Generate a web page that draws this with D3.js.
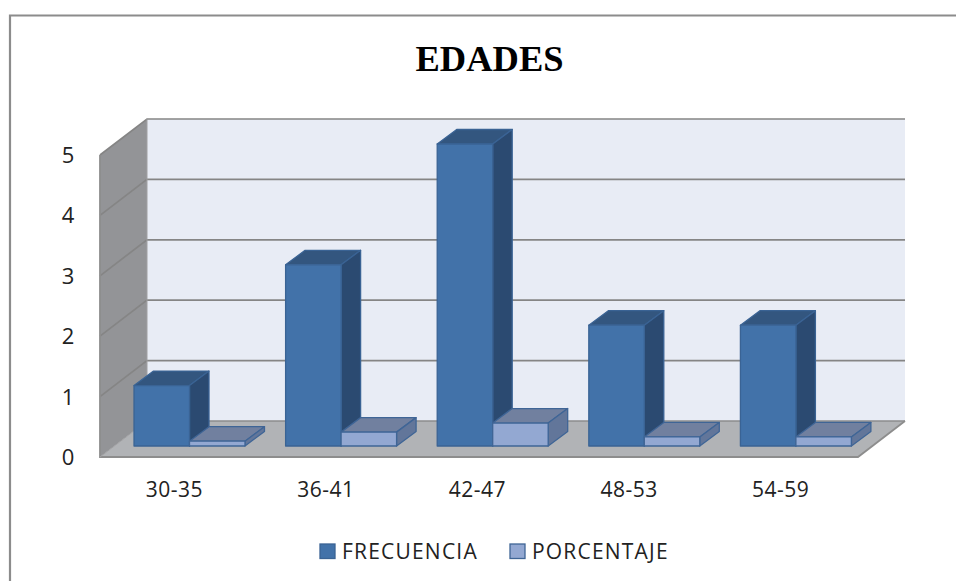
<!DOCTYPE html>
<html><head><meta charset="utf-8">
<script src="https://cdn.jsdelivr.net/npm/d3@7"></script>
<style>html,body{margin:0;padding:0;background:#fff;overflow:hidden}svg{display:block}</style>
</head><body><div id="c"></div>
<script>
const title = "EDADES";
const categories = ["30-35","36-41","42-47","48-53","54-59"];
const frecuencia = [1,3,5,2,2];
const porcentaje = [0.08,0.23,0.38,0.15,0.15];
const seriesNames = ["FRECUENCIA","PORCENTAJE"];
const yTicks = [0,1,2,3,4,5];

const W=956,H=581;
const svg=d3.select("#c").append("svg").attr("width",W).attr("height",H);
const sans="'Open Sans','Noto Sans',sans-serif";
const line=d3.line();

// frame
svg.append("path").attr("d",line([[10,581],[10,15.5],[956,15.5]])).attr("fill","none").attr("stroke","#8c8c8c").attr("stroke-width",2.2);

svg.append("text").attr("x",489.5).attr("y",71).attr("text-anchor","middle")
 .attr("font-family","'Liberation Serif',serif").attr("font-weight","bold").attr("font-size",36.5).attr("fill","#000").text(title);

// 3D frame geometry
const dx=47,dy=36;
const front0=100, frontW=758;
const yFront=d3.scaleLinear().domain([0,5]).range([457,155]);
const yBack=v=>yFront(v)-dy;
const x0=front0+dx, x1=front0+dx+frontW;

svg.append("rect").attr("x",x0).attr("y",yBack(5)).attr("width",x1-x0).attr("height",yBack(0)-yBack(5)).attr("fill","#e8ecf5");
svg.append("path").attr("d",line([[front0,yFront(0)],[front0,yFront(5)],[x0,yBack(5)],[x0,yBack(0)]])+"Z").attr("fill","#939497");
svg.append("path").attr("d",line([[front0,yFront(0)],[x0,yBack(0)],[x1,yBack(0)],[front0+frontW,yFront(0)]])+"Z").attr("fill","#b1b3b6");

// gridlines
yTicks.forEach(t=>{
 if(t>0) svg.append("path").attr("d",line([[front0,yFront(t)],[x0,yBack(t)],[x1,yBack(t)]])).attr("fill","none").attr("stroke","#858585").attr("stroke-width",1.7);
});
svg.append("path").attr("d",line([[x0,yBack(0)],[x1,yBack(0)]])).attr("fill","none").attr("stroke","#8d8d8d").attr("stroke-width",1.6);
svg.append("path").attr("d",line([[front0,yFront(5)],[front0,yFront(0)],[front0+frontW,yFront(0)],[x1,yBack(0)]])).attr("fill","none").attr("stroke","#8d8d8d").attr("stroke-width",1.8);
svg.append("path").attr("d",line([[x0,yBack(5)],[x0,yBack(0)],[front0,yFront(0)]])).attr("fill","none").attr("stroke","#a0a0a2").attr("stroke-width",1);

// y tick labels
svg.selectAll(".yl").data(yTicks).join("text").attr("class","yl").attr("x",68).attr("y",d=>yFront(d)+8)
 .attr("text-anchor","middle").attr("font-family",sans).attr("font-size",22).attr("fill","#222").text(d=>d);

// category labels
const xLabel=d3.scaleBand().domain(categories).range([front0-1.5,front0-1.5+frontW]);
svg.selectAll(".xl").data(categories).join("text").attr("class","xl")
 .attr("x",d=>xLabel(d)+xLabel.bandwidth()/2).attr("y",497).attr("text-anchor","middle")
 .attr("font-family",sans).attr("font-size",21).attr("letter-spacing",0.5).attr("fill","#222").text(d=>d);

// bars
const xGroup=d3.scaleBand().domain(categories).range([113.7,871.7]).paddingInner(0.268).paddingOuter(0.134);
const xSeries=d3.scaleBand().domain(seriesNames).range([0,xGroup.bandwidth()]);
const yBar=d3.scaleLinear().domain([0,5]).range([446,144]);
const bdx=19.5,bdy=14.5;
const styles={
 FRECUENCIA:{front:"#4272a9",top:"#33567f",side:"#2b4a71",stroke:"#3a6394"},
 PORCENTAJE:{front:"#93a8d2",top:"#71809f",side:"#62769a",stroke:"#3f6596"}
};
categories.forEach((c,i)=>{
 [[seriesNames[0],frecuencia[i]],[seriesNames[1],porcentaje[i]]].forEach(([s,v])=>{
  const st=styles[s];
  const l=xGroup(c)+xSeries(s), w=xSeries.bandwidth(), t=yBar(v), b=yBar(0);
  const g=svg.append("g").attr("stroke",st.stroke).attr("stroke-width",1.3).attr("stroke-linejoin","round");
  g.append("path").attr("fill",st.top).attr("d",line([[l,t],[l+bdx,t-bdy],[l+w+bdx,t-bdy],[l+w,t]])+"Z");
  g.append("path").attr("fill",st.side).attr("d",line([[l+w,t],[l+w+bdx,t-bdy],[l+w+bdx,b-bdy],[l+w,b]])+"Z");
  g.append("rect").attr("fill",st.front).attr("x",l).attr("y",t).attr("width",w).attr("height",b-t);
 });
});

// legend
const legendX=d3.scaleOrdinal().domain(seriesNames).range([320,510]);
seriesNames.forEach(s=>{
 svg.append("rect").attr("x",legendX(s)).attr("y",544).attr("width",15).attr("height",14.5)
  .attr("fill",styles[s].front).attr("stroke",styles[s].stroke).attr("stroke-width",1.3);
 svg.append("text").attr("x",legendX(s)+22).attr("y",559).attr("font-family",sans).attr("font-size",21).attr("letter-spacing",1.2).attr("fill","#222").text(s);
});
</script></body></html>
